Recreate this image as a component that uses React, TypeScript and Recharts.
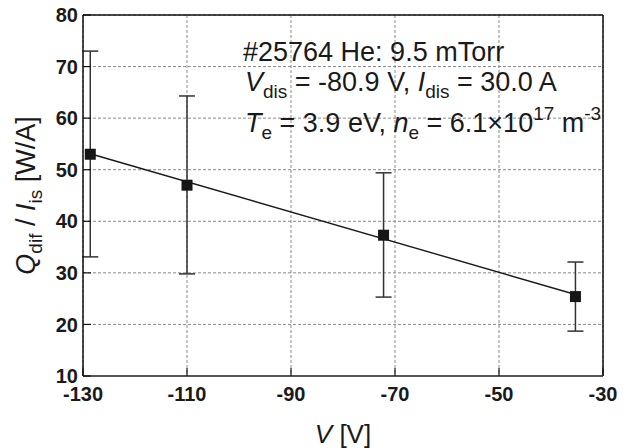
import React from 'react';
import {
  ComposedChart,
  Scatter,
  XAxis,
  YAxis,
  CartesianGrid,
  ErrorBar,
  ReferenceLine,
  Customized,
} from 'recharts';

const voltages = [-128.6, -110.0, -72.2, -35.3];
const qdif = [53.0, 47.0, 37.3, 25.4];
const errLow = [33.1, 29.8, 25.3, 18.7];
const errHigh = [73.0, 64.3, 49.4, 32.1];

const fitV = [-128.6, -35.3];
const fitQ = [53.1, 25.8];

const xTicks = [-130, -110, -90, -70, -50, -30];
const yTicks = [10, 20, 30, 40, 50, 60, 70, 80];

const points = voltages.map((v, i) => ({
  v,
  q: qdif[i],
  err: [qdif[i] - errLow[i], errHigh[i] - qdif[i]],
}));
const fitData = fitV.map((v, i) => ({ v, q: fitQ[i] }));

const FONT = '"Liberation Sans", Arial, Helvetica, sans-serif';

const SquareShape = (props: any) => {
  const { cx, cy } = props;
  if (cx == null || cy == null) return <g />;
  return <rect x={cx - 5.5} y={cy - 5.5} width={11} height={11} fill="#161616" />;
};

const NoShape = () => <g />;

const Annotation = () => (
  <g fontFamily={FONT} fill="#1a1a1a">
    <text x={243} y={61} fontSize={27}>
      #25764 He: 9.5 mTorr
    </text>
    <text x={245} y={91} fontSize={27}>
      <tspan fontStyle="italic">V</tspan>
      <tspan fontSize={19} dy={7}>dis</tspan>
      <tspan dy={-7}> = -80.9 V, </tspan>
      <tspan fontStyle="italic">I</tspan>
      <tspan fontSize={19} dy={7}>dis</tspan>
      <tspan dy={-7}> = 30.0 A</tspan>
    </text>
    <text x={245} y={132} fontSize={27}>
      <tspan fontStyle="italic">T</tspan>
      <tspan fontSize={19} dy={7}>e</tspan>
      <tspan dy={-7}> = 3.9 eV, </tspan>
      <tspan fontStyle="italic">n</tspan>
      <tspan fontSize={19} dy={7}>e</tspan>
      <tspan dy={-7}> = 6.1×10</tspan>
      <tspan fontSize={19} dy={-12}>17</tspan>
      <tspan dy={12}> m</tspan>
      <tspan fontSize={19} dy={-12}>-3</tspan>
    </text>
    <text x={35} y={195.5} fontSize={27} textAnchor="middle" transform="rotate(-90 35 195.5)">
      <tspan fontStyle="italic">Q</tspan>
      <tspan fontSize={19} dy={7}>dif</tspan>
      <tspan dy={-7}> / </tspan>
      <tspan fontStyle="italic">I</tspan>
      <tspan fontSize={19} dy={7}>is</tspan>
      <tspan dy={-7}> [W/A]</tspan>
    </text>
    <text x={343} y={443} fontSize={26} textAnchor="middle">
      <tspan fontStyle="italic">V</tspan>
      <tspan> [V]</tspan>
    </text>
  </g>
);

const tickStyle = {
  fontFamily: FONT,
  fontWeight: 'bold' as const,
  fontSize: 20,
  fill: '#1a1a1a',
};

export default function App() {
  return (
    <div style={{ position: 'absolute', left: 0, top: 0, width: 629, height: 448, background: '#fff' }}>
      <ComposedChart
        width={629}
        height={448}
        margin={{ top: 15, right: 26, bottom: 0, left: 0 }}
      >
        <CartesianGrid stroke="#8a8a8a" strokeDasharray="3 2" strokeWidth={1} />
        <XAxis
          type="number"
          dataKey="v"
          domain={[-130, -30]}
          ticks={xTicks}
          allowDataOverflow
          height={72}
          tickSize={-8}
          tickMargin={19}
          tick={tickStyle}
          axisLine={{ stroke: '#555', strokeWidth: 2 }}
          tickLine={{ stroke: '#111', strokeWidth: 1.2 }}
        />
        <YAxis
          type="number"
          dataKey="q"
          domain={[10, 80]}
          ticks={yTicks}
          allowDataOverflow
          width={83}
          tickSize={-8}
          tickMargin={13}
          tick={tickStyle}
          axisLine={{ stroke: '#111', strokeWidth: 1.5 }}
          tickLine={{ stroke: '#111', strokeWidth: 1.2 }}
        />
        <ReferenceLine y={80} stroke="#111" strokeWidth={1.5} ifOverflow="visible" />
        <ReferenceLine x={-30} stroke="#111" strokeWidth={1.5} ifOverflow="visible" />
        <Scatter
          data={fitData}
          dataKey="q"
          line={{ stroke: '#1a1a1a', strokeWidth: 1.4 }}
          shape={NoShape}
          isAnimationActive={false}
        />
        <Scatter
          data={points}
          dataKey="q"
          shape={SquareShape}
          isAnimationActive={false}
        >
          <ErrorBar dataKey="err" direction="y" width={8} stroke="#333" strokeWidth={1.5} />
        </Scatter>
        <Customized component={Annotation} />
      </ComposedChart>
    </div>
  );
}
